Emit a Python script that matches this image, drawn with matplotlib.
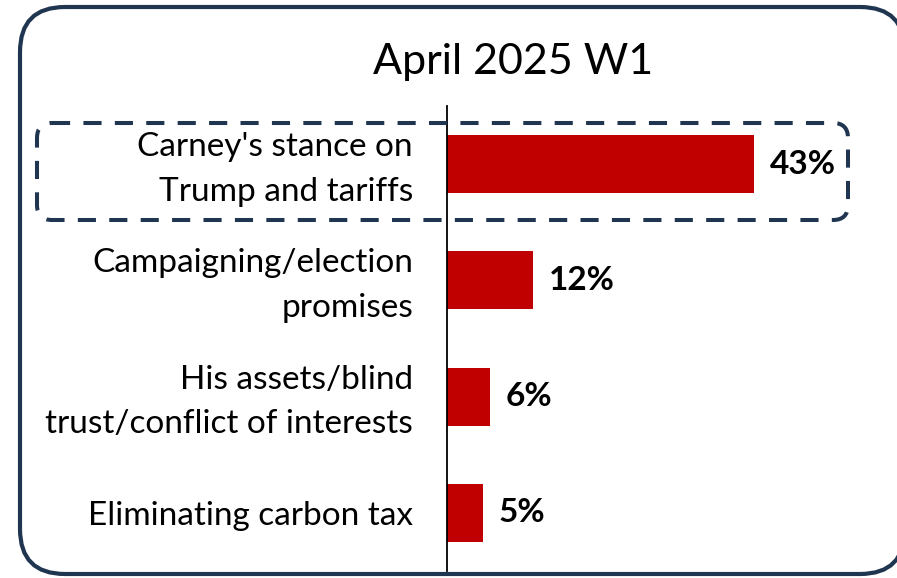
import matplotlib.pyplot as plt
import matplotlib.transforms as mtransforms
from matplotlib.patches import FancyBboxPatch

plt.rcParams['font.family'] = ['Lato', 'DejaVu Sans']

categories = ["Carney's stance on\nTrump and tariffs",
              "Campaigning/election\npromises",
              "His assets/blind\ntrust/conflict of interests",
              "Eliminating carbon tax"]
values = [43, 12, 6, 5]
title = "April 2025 W1"

navy = '#1F3550'
red = '#C00000'

fig = plt.figure(figsize=(8.97, 5.78), dpi=100)

# main bar axes (pixel layout: left 447, top 106, bottom 571)
W, H = 897, 578
ax = fig.add_axes([447 / W, 1 - 571 / H, 450 / W, 465 / H])
ax.patch.set_visible(False)
ypos = range(len(categories))
ax.barh(ypos, values, height=0.5, color=red)
ax.set_ylim(len(categories) - 0.5, -0.5)
ax.set_xlim(0, 63)
for s in ['top', 'right', 'bottom']:
    ax.spines[s].set_visible(False)
ax.spines['left'].set_linewidth(1.3)
ax.set_xticks([])
ax.set_yticks(list(ypos))
ax.set_yticklabels(categories, fontsize=24, linespacing=1.6)
ax.tick_params(axis='y', length=0, pad=24.5)
# nudge two-line labels up a little so they sit centred on the bar
shift = mtransforms.ScaledTranslation(0, 5 / 100, fig.dpi_scale_trans)
for lbl in ax.get_yticklabels():
    if '\n' in lbl.get_text():
        lbl.set_transform(lbl.get_transform() + shift)
for y, v in zip(ypos, values):
    ax.text(v + 2.2, y, f"{v}%", va='center', ha='left', fontsize=24, fontweight='bold')

# overlay for frame, dashed highlight and title
ov = fig.add_axes([0, 0, 1, 1], zorder=3)
ov.set_xlim(0, W)
ov.set_ylim(H, 0)
ov.axis('off')
# near-invisible fill keeps agg from clipping the off-canvas edge into a diagonal
ghost = (1, 1, 1, 0.003)
ov.add_patch(FancyBboxPatch((20, 7), 885, 567, boxstyle='round,pad=0,rounding_size=45',
                            facecolor=ghost, edgecolor=navy, linewidth=3.0))
ov.add_patch(FancyBboxPatch((37, 123), 811, 97, boxstyle='round,pad=0,rounding_size=15',
                            facecolor=ghost, edgecolor=navy, linewidth=2.9,
                            linestyle=(0, (4.5, 3.3))))
ov.text(513, 62, title, ha='center', va='center', fontsize=31)

fig.savefig('out.png', dpi=100)
